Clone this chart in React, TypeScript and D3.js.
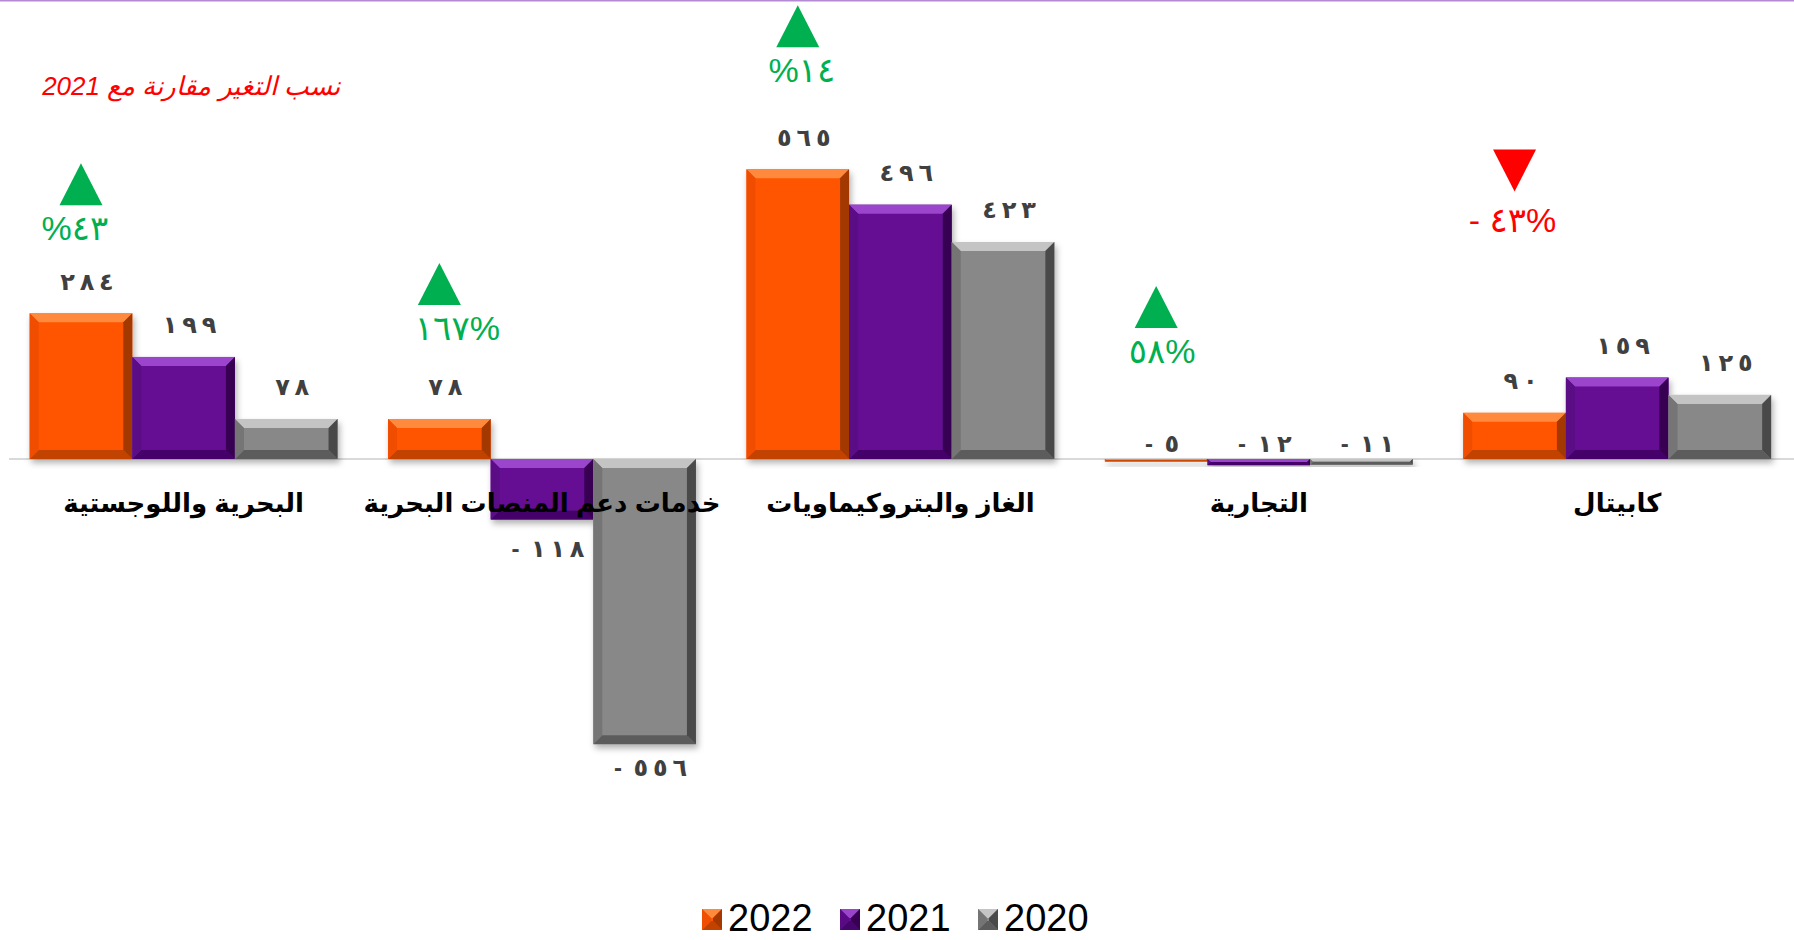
import React from 'react';
import * as d3 from 'd3';

const categories = [
  'البحرية واللوجستية',
  'خدمات دعم المنصات البحرية',
  'الغاز والبتروكيماويات',
  'التجارية',
  'كابيتال',
];
const years = ['2022', '2021', '2020'];
const values2022 = [284, 78, 565, -5, 90];
const values2021 = [199, -118, 496, -12, 159];
const values2020 = [78, -556, 423, -11, 125];
const changePct = [43, 167, 14, 58, -43];
const changeLabels = ['%٤٣', '١٦٧%', '%١٤', '٥٨%', '- ٤٣%'];
const subtitle = 'نسب التغير مقارنة مع 2021';

// layout-only arrays (pixels)
const annotationLift = [150, 156, 164, 173, 228];
const annotationTextShift = [-6, 18, 4, 6, -2];

const palette = [
  { base: '#ff5500', light: '#ff8a3c', left: '#f04e00', right: '#a33800', bottom: '#c24300' },
  { base: '#650b93', light: '#9a44cc', left: '#5a0a84', right: '#380052', bottom: '#44066a' },
  { base: '#888888', light: '#c4c4c4', left: '#747474', right: '#4a4a4a', bottom: '#5c5c5c' },
];

const arabicDigits = '٠١٢٣٤٥٦٧٨٩';
const toArabic = (n: number, sep = '') =>
  String(Math.abs(n))
    .split('')
    .map((c) => arabicDigits[+c])
    .join(sep);
const fmtValue = (v: number) =>
  v < 0 ? '-\u00a0\u2009' + toArabic(v, '\u2009') : toArabic(v, '\u2009');

function BevelRect({ x, y, w, h, c }: { x: number; y: number; w: number; h: number; c: typeof palette[0] }) {
  const b = Math.max(0, Math.min(9, h / 2, w / 2));
  const p = (pts: number[][]) => pts.map((q) => q.join(',')).join(' ');
  return (
    <g>
      <rect x={x} y={y} width={w} height={h} fill={c.base} />
      <polygon points={p([[x, y], [x + w, y], [x + w - b, y + b], [x + b, y + b]])} fill={c.light} />
      <polygon points={p([[x, y + h], [x + w, y + h], [x + w - b, y + h - b], [x + b, y + h - b]])} fill={c.bottom} />
      <polygon points={p([[x, y], [x + b, y + b], [x + b, y + h - b], [x, y + h]])} fill={c.left} />
      <polygon points={p([[x + w, y], [x + w - b, y + b], [x + w - b, y + h - b], [x + w, y + h]])} fill={c.right} />
    </g>
  );
}

export default function App() {
  const W = 1794;
  const H = 940;
  const x0 = d3
    .scaleBand<string>()
    .domain(categories)
    .range([4.4, 1796.4])
    .paddingInner(0.141)
    .paddingOuter(0.0705);
  const x1 = d3.scaleBand<string>().domain(years).range([0, x0.bandwidth()]);
  const y = d3.scaleLinear().domain([-600, 600]).range([766.7, 151.3]);
  const series = [values2022, values2021, values2020];
  const zero = y(0);
  const numStyle: React.CSSProperties = { unicodeBidi: 'bidi-override', direction: 'ltr' };

  return (
    <svg
      width={W}
      height={H}
      style={{ position: 'absolute', left: 0, top: 0, display: 'block', background: '#fff' }}
      fontFamily="'Liberation Sans', 'DejaVu Sans', sans-serif"
    >
      <defs>
        <filter id="sh" x="-20%" y="-20%" width="140%" height="140%">
          <feDropShadow dx="2" dy="4" stdDeviation="3" floodColor="#000" floodOpacity="0.3" />
        </filter>
      </defs>
      <rect x={0} y={0} width={W} height={H} fill="#fff" />
      <line x1={0} x2={W} y1={0.5} y2={0.5} stroke="#b48bd3" strokeWidth={2} />

      <text
        x={191}
        y={86}
        dy="0.35em"
        textAnchor="middle"
        direction="rtl"
        fill="#ff0000"
        fontStyle="italic"
        fontSize={26}
      >
        {subtitle}
      </text>

      <line x1={9} x2={W} y1={zero} y2={zero} stroke="#d9d9d9" strokeWidth={2} />

      {categories.map((cat, i) => (
        <g key={cat} filter="url(#sh)">
          {years.map((yr, s) => {
            const v = series[s][i];
            const bx = (x0(cat) as number) + (x1(yr) as number);
            const top = y(Math.max(v, 0));
            const bottom = y(Math.min(v, 0));
            return <BevelRect key={yr} x={bx} y={top} w={x1.bandwidth()} h={bottom - top} c={palette[s]} />;
          })}
        </g>
      ))}

      {categories.map((cat, i) =>
        years.map((yr, s) => {
          const v = series[s][i];
          const cx = (x0(cat) as number) + (x1(yr) as number) + x1.bandwidth() / 2;
          let ly: number;
          if (v >= 0) ly = y(v) - 32;
          else if (zero - y(v) > -20) ly = zero - 15;
          else ly = y(v) + (v < -300 ? 23 : 29);
          return (
            <text
              key={cat + yr}
              x={cx + 6}
              y={ly}
              dy="0.35em"
              textAnchor="middle"
              fontSize={24}
              fontWeight="bold"
              letterSpacing={4}
              fill="#404040"
              style={numStyle}
            >
              {fmtValue(v)}
            </text>
          );
        })
      )}

      {categories.map((cat, i) => (
        <text
          key={'c' + cat}
          x={(x0(cat) as number) + x0.bandwidth() / 2}
          y={503}
          dy="0.35em"
          textAnchor="middle"
          direction="rtl"
          fontSize={26}
          fontWeight="bold"
          fill="#000"
        >
          {cat}
        </text>
      ))}

      {categories.map((cat, i) => {
        const cx = (x0(cat) as number) + (x1('2022') as number) + x1.bandwidth() / 2;
        const groupMax = Math.max(0, ...series.map((sv) => sv[i]));
        const triTop = y(groupMax) - annotationLift[i];
        const up = changePct[i] >= 0;
        const col = up ? '#00b050' : '#ff0000';
        const tw = 21.5;
        const th = 42;
        const pts = up
          ? [[cx - tw, triTop + th], [cx + tw, triTop + th], [cx, triTop]]
          : [[cx - tw, triTop], [cx + tw, triTop], [cx, triTop + th]];
        return (
          <g key={'a' + cat}>
            <polygon points={pts.map((q) => q.join(',')).join(' ')} fill={col} />
            <text
              x={cx + annotationTextShift[i]}
              y={triTop + th + (up ? 23 : 29)}
              dy="0.35em"
              textAnchor="middle"
              fontSize={34}
              letterSpacing={1}
              fill={col}
              style={numStyle}
            >
              {changeLabels[i]}
            </text>
          </g>
        );
      })}

      {years.map((yr, s) => {
        const lx = 702 + s * 138;
        return (
          <g key={'l' + yr}>
            <BevelRect x={lx} y={909} w={20} h={21} c={palette[s]} />
            <text x={lx + 26} y={931} fontSize={38} fill="#000">
              {yr}
            </text>
          </g>
        );
      })}
    </svg>
  );
}
